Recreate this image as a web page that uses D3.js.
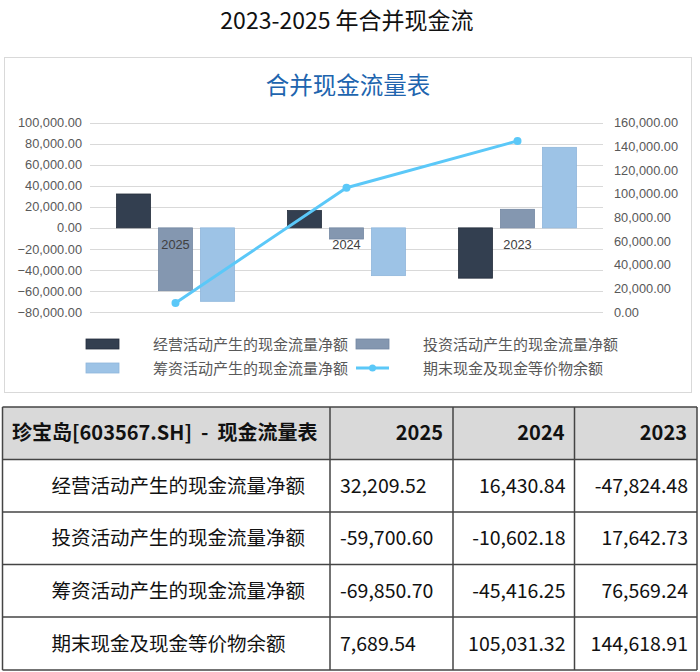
<!DOCTYPE html>
<html>
<head>
<meta charset="utf-8">
<script src="https://cdn.jsdelivr.net/npm/d3@7"></script>
<style>
  body { margin: 0; background: #fff; }
  svg { display: block; }
</style>
</head>
<body>
<div id="vis"></div>
<script>
// data
var years = ["2025", "2024", "2023"];
var seriesNames = ["经营活动产生的现金流量净额", "投资活动产生的现金流量净额", "筹资活动产生的现金流量净额", "期末现金及现金等价物余额"];
var operating = [32209.52, 16430.84, -47824.48];
var investing = [-59700.60, -10602.18, 17642.73];
var financing = [-69850.70, -45416.25, 76569.24];
var cashEnd = [7689.54, 105031.32, 144618.91];
var leftTicks = [-80000, -60000, -40000, -20000, 0, 20000, 40000, 60000, 80000, 100000];
var rightTicks = [0, 20000, 40000, 60000, 80000, 100000, 120000, 140000, 160000];
var tableLabels = ["经营活动产生的现金流量净额", "投资活动产生的现金流量净额", "筹资活动产生的现金流量净额", "期末现金及现金等价物余额"];
var tableValues = [
  ["32,209.52", "16,430.84", "-47,824.48"],
  ["-59,700.60", "-10,602.18", "17,642.73"],
  ["-69,850.70", "-45,416.25", "76,569.24"],
  ["7,689.54", "105,031.32", "144,618.91"]
];

var W = 700, H = 672;
var cjk = "'Noto Sans CJK SC', 'Noto Sans', sans-serif";
var latin = "'Liberation Sans', Arial, sans-serif";
var barColors = ["#333f50", "#8497b0", "#9dc3e6"];
var barStroke = ["#252e3c", "#7488a3", "#8fb6db"];
var lineColor = "#5bc8f8";

var svg = d3.select("#vis").append("svg")
    .attr("width", W)
    .attr("height", H);

// top title
svg.append("text")
    .attr("x", 347).attr("y", 28.5)
    .attr("text-anchor", "middle")
    .style("font-family", cjk).style("font-size", "23px").attr("fill", "#111")
    .text("2023-2025 年合并现金流");

// chart frame
svg.append("rect")
    .attr("x", 4.5).attr("y", 57.5)
    .attr("width", 687).attr("height", 335)
    .attr("fill", "#fff").attr("stroke", "#d9d9d9");

svg.append("text")
    .attr("x", 348).attr("y", 93.5)
    .attr("text-anchor", "middle")
    .style("font-family", cjk).style("font-size", "23.5px").attr("fill", "#2064ae")
    .text("合并现金流量表");

var plot = { left: 90, right: 603, top: 122.7, bottom: 312 };

var x = d3.scaleBand().domain(years).range([plot.left, plot.right]);
var inner = d3.scaleBand().domain([0, 1, 2])
    .range([26.5, x.bandwidth() - 26.5])
    .paddingInner(0.19).paddingOuter(0);
var y = d3.scaleLinear().domain([-80000, 100000]).range([plot.bottom, plot.top]);
var y2 = d3.scaleLinear().domain([0, 160000]).range([plot.bottom, plot.top]);
var fmt = d3.format(",.2f");

// grid
svg.append("g").selectAll("line")
  .data(leftTicks)
  .enter().append("line")
    .attr("x1", plot.left).attr("x2", plot.right)
    .attr("y1", function(d) { return Math.round(y(d)) + 0.5; })
    .attr("y2", function(d) { return Math.round(y(d)) + 0.5; })
    .attr("stroke", "#d9d9d9").attr("stroke-width", 1);

var yAxis = svg.append("g")
    .attr("transform", "translate(" + (plot.left - 2) + ",0)")
    .call(d3.axisLeft(y).tickValues(leftTicks).tickFormat(fmt).tickSize(0).tickPadding(6));
var y2Axis = svg.append("g")
    .attr("transform", "translate(" + (plot.right + 5) + ",0)")
    .call(d3.axisRight(y2).tickValues(rightTicks).tickFormat(fmt).tickSize(0).tickPadding(6));
[yAxis, y2Axis].forEach(function(a) {
  a.select(".domain").remove();
  a.selectAll("text")
    .style("font-family", latin).style("font-size", "12.8px").attr("fill", "#595959");
});

// bars
var barSeries = [operating, investing, financing];
barSeries.forEach(function(vals, si) {
  svg.append("g").selectAll("rect")
    .data(vals)
    .enter().append("rect")
      .attr("x", function(d, i) { return x(years[i]) + inner(si); })
      .attr("y", function(d) { return y(Math.max(0, d)); })
      .attr("width", inner.bandwidth())
      .attr("height", function(d) { return Math.abs(y(d) - y(0)); })
      .attr("fill", barColors[si])
      .attr("stroke", barStroke[si])
      .attr("stroke-width", 0.8);
});

// category labels next to the zero line
svg.append("g").selectAll("text")
  .data(years)
  .enter().append("text")
    .attr("x", function(d) { return x(d) + x.bandwidth() / 2; })
    .attr("y", y(0) + 21)
    .attr("text-anchor", "middle")
    .style("font-family", latin).style("font-size", "12.8px").attr("fill", "#404040")
    .text(function(d) { return d; });

// line on right axis
var line = d3.line()
    .x(function(d, i) { return x(years[i]) + x.bandwidth() / 2; })
    .y(function(d) { return y2(d); });

svg.append("path")
    .datum(cashEnd)
    .attr("d", line)
    .attr("fill", "none")
    .attr("stroke", lineColor)
    .attr("stroke-width", 3)
    .attr("stroke-linejoin", "round");

svg.append("g").selectAll("circle")
  .data(cashEnd)
  .enter().append("circle")
    .attr("cx", function(d, i) { return x(years[i]) + x.bandwidth() / 2; })
    .attr("cy", function(d) { return y2(d); })
    .attr("r", 4)
    .attr("fill", lineColor);

// legend
var legendPos = [[86, 344], [356, 344], [86, 368], [356, 368]];
var legendOrder = [0, 1, 2, 3];
var lg = svg.append("g").selectAll("g")
  .data(legendOrder)
  .enter().append("g")
    .attr("transform", function(d, i) { return "translate(" + legendPos[i][0] + "," + legendPos[i][1] + ")"; });

lg.each(function(d) {
  var g = d3.select(this);
  if (d < 3) {
    g.append("rect")
      .attr("x", 0).attr("y", -5).attr("width", 33).attr("height", 10)
      .attr("fill", barColors[d]).attr("stroke", barStroke[d]).attr("stroke-width", 0.8);
  } else {
    g.append("line").attr("x1", 0).attr("x2", 33).attr("y1", 0).attr("y2", 0)
      .attr("stroke", lineColor).attr("stroke-width", 3);
    g.append("circle").attr("cx", 16.5).attr("cy", 0).attr("r", 3.5).attr("fill", lineColor);
  }
  g.append("text")
    .attr("x", 67).attr("y", 5.5)
    .style("font-family", cjk).style("font-size", "15px").attr("fill", "#595959")
    .text(seriesNames[d]);
});

// table
var colX = [2.5, 330, 453, 574.5, 697];
var rowY = [407, 459.5, 512, 564.5, 617, 670];
var tb = svg.append("g");

tb.append("rect")
    .attr("x", colX[0]).attr("y", rowY[0])
    .attr("width", colX[4] - colX[0]).attr("height", rowY[1] - rowY[0])
    .attr("fill", "#d9d9d9");

tb.append("text")
    .attr("x", 12).attr("y", (rowY[0] + rowY[1]) / 2 + 7)
    .attr("xml:space", "preserve")
    .style("white-space", "pre")
    .style("font-family", cjk).style("font-size", "20px").style("font-weight", "bold").attr("fill", "#111")
    .text("珍宝岛[603567.SH]  -  现金流量表");

tb.selectAll(".hdr")
  .data(years)
  .enter().append("text")
    .attr("class", "hdr")
    .attr("x", function(d, i) { return colX[i + 2] - 10; })
    .attr("y", (rowY[0] + rowY[1]) / 2 + 7)
    .attr("text-anchor", "end")
    .style("font-family", cjk).style("font-size", "20px").style("font-weight", "bold").attr("fill", "#111")
    .text(function(d) { return d; });

tableLabels.forEach(function(lab, r) {
  var cy = (rowY[r + 1] + rowY[r + 2]) / 2 + 7;
  tb.append("text")
    .attr("x", 51.5).attr("y", cy)
    .style("font-family", cjk).style("font-size", "19.5px").attr("fill", "#111")
    .text(lab);
  tableValues[r].forEach(function(v, c) {
    tb.append("text")
      .attr("x", c === 0 ? colX[1] + 10 : colX[c + 2] - 9)
      .attr("y", cy)
      .attr("text-anchor", c === 0 ? "start" : "end")
      .style("font-family", cjk).style("font-size", "19.5px").attr("fill", "#111")
      .text(v);
  });
});

// grid lines of the table
tb.selectAll(".hl")
  .data(rowY)
  .enter().append("line")
    .attr("x1", colX[0]).attr("x2", colX[4])
    .attr("y1", function(d) { return d; }).attr("y2", function(d) { return d; })
    .attr("stroke", "#444").attr("stroke-width", 1.5);
tb.selectAll(".vl")
  .data(colX)
  .enter().append("line")
    .attr("y1", rowY[0]).attr("y2", rowY[5])
    .attr("x1", function(d) { return d; }).attr("x2", function(d) { return d; })
    .attr("stroke", "#444").attr("stroke-width", 1.5);
</script>
</body>
</html>
